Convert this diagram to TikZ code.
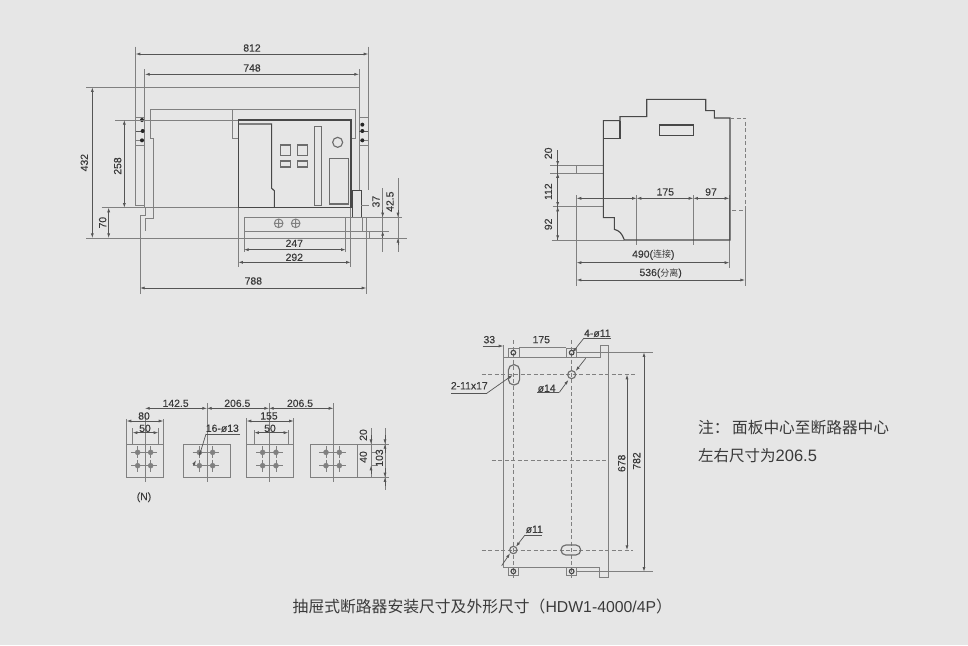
\documentclass[tikz,border=0pt]{standalone}
\usepackage{fontspec}
\setmainfont{Liberation Sans}
\newfontfamily\cjk{Noto Sans CJK SC}
\newfontfamily\dimfont[FakeBold=0.2]{Liberation Sans}
\usetikzlibrary{arrows.meta}
\definecolor{bgc}{HTML}{E6E6E6}
\definecolor{thinc}{HTML}{808080}
\definecolor{thickc}{HTML}{484848}
\definecolor{dimc}{HTML}{555555}
\definecolor{txtc}{HTML}{3A3A3A}
\tikzset{
  thin line/.style={draw=thinc,line width=0.95pt},
  thick line/.style={draw=thickc,line width=1.15pt},
  mid line/.style={draw=thinc!85!black,line width=1.15pt},
  lead line/.style={draw=dimc,line width=0.7pt},
  dash line/.style={draw=thinc,line width=0.8pt,dash pattern=on 4pt off 2.5pt},
  dim/.style={draw=dimc,line width=0.7pt,{Latex[length=4.6pt,width=3pt]}-{Latex[length=4.6pt,width=3pt]}},
  tip/.style={draw=dimc,line width=0.7pt,-{Latex[length=4.6pt,width=3pt]}},
  lab/.style={inner sep=0pt,text=txtc,font=\dimfont\fontsize{10.4}{10.4}\selectfont},
  rlab/.style={lab,rotate=90},
  hole/.style={fill=thinc,draw=thinc,line width=0.4pt},
  zoomed/.style={x=0.33333pt,y=-0.33333pt}
}
\begin{document}
\begin{tikzpicture}[x=1pt,y=-1pt]
\fill[bgc] (0,0) rectangle (968,645);
\useasboundingbox (0,0) rectangle (968,645);

% ---------- front view
\begin{scope}[shift={(70,30)},zoomed]
\draw[thin line] (197,50)--(197,525)--(222,525);
\draw[thin line] (222,118)--(222,530);
\draw[thin line] (197,262)--(222,262) (197,347)--(222,347);
\draw[thin line] (240,325)--(240,238)--(857,238)--(857,325)--(843,325);
\draw[thin line] (487,238)--(487,325)--(505,325);
\draw[thin line] (240,325)--(250,325)--(250,565)--(225,565)--(225,603);
\draw[thin line] (210,792)--(210,555)--(225,555)--(225,530);
\draw[thin line] (867,118)--(867,480);
\draw[thin line] (895,50)--(895,480);
\draw[thin line] (867,262)--(895,262) (867,347)--(895,347);
\draw[lead line] (197,303)--(222,303);
\draw[thin line] (197,331)--(222,331);
\draw[lead line] (867,303)--(895,303);
\draw[thin line] (867,331)--(895,331);
\fill[black!85] (216,270) circle (6) (218,303) circle (6) (216,331) circle (6);
\fill[black!85] (877,284) circle (6) (877,303) circle (6) (877,331) circle (6);
\draw[thin line] (48,172)--(867,172);
\draw[thin line] (48,624)--(1010,624);
\draw[thin line] (135,270)--(505,270);
\draw[thin line] (95,533)--(505,533);
\draw[thick line] (505,533)--(505,270)--(843,270)--(843,533)--cycle;
\draw[thick line] (505,282)--(605,282)--(605,475)--(613,482)--(613,533);
\draw[mid line] (632,345) rectangle (662,377) (682,345) rectangle (712,377)
  (632,393) rectangle (662,411) (682,393) rectangle (712,411)
  (733,290) rectangle (754,527) (778,386) rectangle (835,522);
\draw[mid line] (803,337) circle (15);
\draw[thick line] (847,482) rectangle (874,562);
\draw[thin line] (874,525)--(897,525);
\draw[thin line] (522,562)--(995,562) (522,603)--(958,603) (522,562)--(522,603);
\draw[thin line] (505,533)--(505,710) (842,533)--(842,710) (827,562)--(827,665) (522,603)--(522,665);
\draw[thin line] (878,562)--(878,603) (889,562)--(889,792) (898,603)--(898,624);
\foreach \cx in {626,677} {\draw[thin line] (\cx,580) circle (13) (\cx-13,580)--(\cx+13,580) (\cx,567)--(\cx,593);}
\draw[thin line] (938,475)--(938,665) (984,445)--(984,665);
\draw[dim] (197,72)--(895,72);
\node[lab] (t812) at (546,54) {812};
\draw[dim] (225,133)--(867,133);
\node[lab] (t748) at (546,114) {748};
\draw[dim] (67,172)--(67,624);
\node[rlab] (t432) at (43,398) {432};
\draw[dim] (163,270)--(163,533);
\node[rlab] (t258) at (143,408) {258};
\draw[dim] (116,533)--(116,624);
\node[rlab] (t70) at (98,578) {70};
\draw[dim] (522,659)--(827,659);
\node[lab] (t247) at (673,640) {247};
\draw[dim] (505,697)--(842,697);
\node[lab] (t292) at (673,682) {292};
\draw[dim] (210,774)--(889,774);
\node[lab] (t788) at (550,753) {788};
\draw[tip] (938,540)--(938,562);
\draw[tip] (938,625)--(938,603);
\draw[tip] (984,540)--(984,562);
\draw[tip] (984,646)--(984,624);
\node[rlab] (t37) at (918,515) {37};
\node[rlab] (t425) at (960,515) {42.5};
\end{scope}

% ---------- side view
\begin{scope}[shift={(530,85)},zoomed]
\draw[thin line] (60,242)--(220,242) (60,265)--(220,265) (140,242)--(140,265);
\draw[thin line] (68,365)--(220,365) (65,465)--(283,465);
\draw[thin line] (140,330)--(140,603) (320,330)--(320,480) (490,330)--(490,480) (598,330)--(598,548);
\draw[thick line] (220,107)--(270,107)--(270,95)--(350,95)--(350,43)--(527,43)--(527,77)--(553,77)--(553,99)--(600,99)--(600,465)--(283,465)
  .. controls (276,445) and (268,437) .. (253,433)--(253,398)--(220,398)--cycle;
\draw[thick line] (220,160)--(270,160)--(270,107);
\draw[thick line] (389,120) rectangle (491,152);
\draw[dash line] (600,99)--(647,99)--(647,375)--(605,375);
\draw[thin line] (647,375)--(647,603);
\draw[dim] (140,340)--(320,340);
\draw[dim] (320,340)--(490,340);
\draw[dim] (490,340)--(598,340);
\node[lab] (t175) at (406,321) {175};
\node[lab] (t97) at (543,321) {97};
\draw[dim] (140,533)--(598,533);
\node[lab] (t490) at (370,510) {490({\cjk\fontsize{9}{9}\selectfont 连接})};
\draw[dim] (140,585)--(645,585);
\node[lab] (t536) at (392,565) {536({\cjk\fontsize{9}{9}\selectfont 分离})};
\draw[lead line] (83,195)--(83,465);
\draw[tip] (83,222)--(83,242);
\draw[tip] (83,285)--(83,265);
\draw[dim] (83,265)--(83,365);
\draw[dim] (83,365)--(83,465);
\node[rlab] (t20) at (55,205) {20};
\node[rlab] (t112) at (55,320) {112};
\node[rlab] (t92) at (55,418) {92};
\end{scope}

% ---------- busbars
\begin{scope}[shift={(110,385)},zoomed]
\draw[thin line] (50,177) rectangle (160,277) (220,177) rectangle (362,277) (410,177) rectangle (551,277) (600,177) rectangle (742,277);
\draw[thin line] (742,177)--(838,177) (742,277)--(838,277) (783,202)--(800,202) (783,242)--(800,242);
\draw[thin line] (105,85)--(105,290) (291,55)--(291,290) (477,55)--(477,290) (670,55)--(670,290);
\draw[thin line] (50,102)--(50,177) (160,102)--(160,177) (68,130)--(68,177) (145,130)--(145,177);
\draw[thin line] (410,100)--(410,177) (551,100)--(551,177) (433,135)--(433,177) (535,135)--(535,177);
\foreach \cx in {83,122,268,308,458,498,648,688}
  \foreach \cy in {202,242} {
    \draw[thin line] (\cx-20,\cy)--(\cx+20,\cy) (\cx,\cy-18)--(\cx,\cy+18);
    \fill[hole] (\cx,\cy) circle (7.5);
  }
\draw[dim] (105,70)--(291,70);
\draw[dim] (291,70)--(477,70);
\draw[dim] (477,70)--(670,70);
\node[lab] (t1425) at (197,55) {142.5};
\node[lab] (t2065a) at (382,55) {206.5};
\node[lab] (t2065b) at (570,55) {206.5};
\draw[dim] (50,108)--(160,108);
\node[lab] (t80) at (102,93) {80};
\draw[dim] (68,143)--(145,143);
\node[lab] (t50a) at (105,130) {50};
\draw[dim] (410,108)--(551,108);
\node[lab] (t155) at (477,93) {155};
\draw[dim] (433,143)--(535,143);
\node[lab] (t50b) at (480,130) {50};
\node[lab] (t16) at (337,130) {16-ø13};
\draw[lead line] (390,147)--(288,147);
\draw[tip] (288,147)--(267,215);
\draw[tip] (250,240)--(258,226);
\node[lab] (tN) at (102,337) {(N)};
\draw[thin line] (783,130)--(783,280) (825,130)--(825,315);
\draw[tip] (783,150)--(783,177);
\draw[tip] (783,268)--(783,242);
\draw[tip] (825,150)--(825,177);
\draw[tip] (825,205)--(825,177);
\draw[tip] (825,250)--(825,277);
\draw[tip] (825,304)--(825,277);
\node[rlab] (t20b) at (760,150) {20};
\node[rlab] (t40) at (760,216) {40};
\node[rlab] (t103) at (808,219) {103};
\end{scope}

% ---------- mounting plate
\begin{scope}[shift={(440,325)},zoomed]
\draw[dash line] (220,45)--(220,765) (395,45)--(395,765);
\draw[dash line] (125,149)--(585,149) (155,407)--(500,407) (125,675)--(580,675);
\draw[thin line] (190,60)--(190,728)--(478,728)--(478,758)--(504,758)--(504,62)--(480,62)--(480,97)--(190,97);
\draw[thin line] (237,67)--(379,67);
\draw[thin line] (410,82)--(638,82) (478,740)--(638,740) (410,739)--(478,739);
\draw[thin line] (206,70) rectangle (237,97) (379,70) rectangle (410,97);
\draw[thin line] (205,728) rectangle (235,750) (379,728) rectangle (410,750);
\draw[thick line] (220,83) circle (7) (395,83) circle (7) (220,739) circle (7) (395,739) circle (7);
\draw[mid line,rounded corners=5.5pt] (205,119) rectangle (239,180);
\draw[mid line,rounded corners=4.8pt] (363,660) rectangle (422,690);
\draw[mid line] (395,149) circle (12) (220,675) circle (11);
\draw[dim] (561,149)--(561,675);
\draw[dim] (612,82)--(612,740);
\node[rlab] (t678) at (545,415) {678};
\node[rlab] (t782) at (590,408) {782};
\node[lab] (t175b) at (304,44) {175};
\node[lab] (t33) at (148,44) {33};
\draw[tip] (128,63)--(190,63);
\node[lab] (t4) at (472,25) {4-ø11};
\draw[lead line] (512,39)--(432,39);
\draw[tip] (432,39)--(397,83);
\node[lab] (t14) at (320,190) {ø14};
\draw[lead line] (292,202)--(358,202);
\draw[tip] (358,202)--(385,165);
\draw[tip] (437,100)--(407,138);
\node[lab] (t211) at (88,182) {2-11x17};
\draw[lead line] (33,205)--(140,205);
\draw[tip] (140,205)--(218,150);
\node[lab] (t11) at (283,613) {ø11};
\draw[lead line] (305,630)--(255,630);
\draw[tip] (255,630)--(228,665);
\draw[tip] (185,722)--(210,685);
\end{scope}

% ---------- notes
\node[anchor=west,inner sep=0pt,text=txtc] (note1) at (698,428) {\cjk\fontsize{15.7}{15.7}\selectfont 注：\hspace{2.5pt}面板中心至断路器中心};
\node[anchor=west,inner sep=0pt,text=txtc] (note2) at (698,456) {\cjk\fontsize{15.5}{15.5}\selectfont 左右尺寸为{\fontspec{Liberation Sans}\fontsize{16.5}{16.5}\selectfont 206.5}};
\node[anchor=west,inner sep=0pt,text=txtc] (caption) at (292.5,606) {\cjk\fontsize{15.8}{15.8}\selectfont 抽屉式断路器安装尺寸及外形尺寸（{\fontspec{Liberation Sans}HDW1-4000/4P}）};
\end{tikzpicture}
\end{document}
